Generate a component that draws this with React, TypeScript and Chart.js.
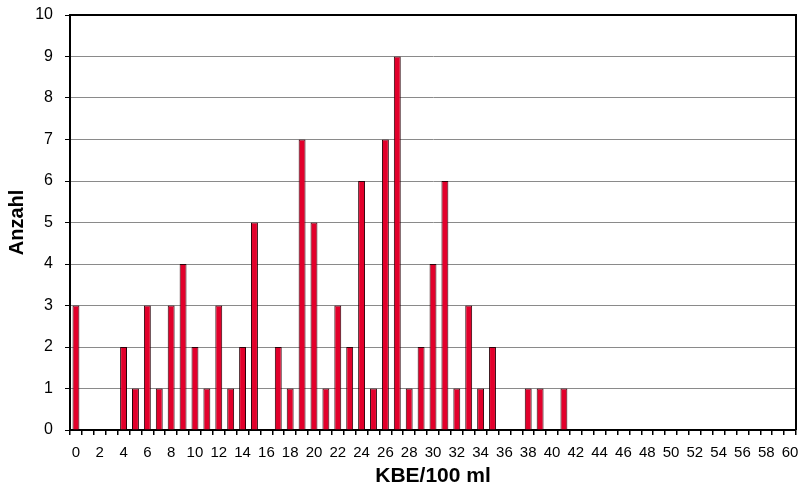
import React, { useEffect, useRef } from "react";
import { Chart, registerables } from "chart.js";

Chart.register(...registerables);

const categories: string[] = Array.from({ length: 61 }, (_, i) => String(i));
const counts: number[] = [
  3, 0, 0, 0, 2, 1, 3, 1, 3, 4,
  2, 1, 3, 1, 2, 5, 0, 2, 1, 7,
  5, 1, 3, 2, 6, 1, 7, 9, 1, 2,
  4, 6, 1, 3, 1, 2, 0, 0, 1, 1,
  0, 1, 0, 0, 0, 0, 0, 0, 0, 0,
  0, 0, 0, 0, 0, 0, 0, 0, 0, 0,
  0,
];
const yTicks: number[] = [0, 1, 2, 3, 4, 5, 6, 7, 8, 9, 10];
const xTitle = "KBE/100 ml";
const yTitle = "Anzahl";

const frame = {
  id: "frame",
  afterDraw(chart: any) {
    const { ctx, chartArea } = chart;
    ctx.save();
    ctx.strokeStyle = "#000";
    ctx.lineWidth = 2;
    ctx.beginPath();
    ctx.moveTo(chartArea.left, chartArea.top);
    ctx.lineTo(chartArea.right, chartArea.top);
    ctx.lineTo(chartArea.right, chartArea.bottom);
    ctx.stroke();
    ctx.restore();
  },
};

export default function App() {
  const ref = useRef<HTMLCanvasElement>(null);
  useEffect(() => {
    document.body.style.margin = "0";
    const chart = new Chart(ref.current!, {
      type: "bar",
      data: {
        labels: categories,
        datasets: [
          {
            data: counts,
            backgroundColor: "#E2002B",
            borderColor: "#2a0008",
            borderWidth: 1,
            categoryPercentage: 1,
            barPercentage: 0.58,
          },
        ],
      },
      options: {
        animation: false,
        responsive: false,
        layout: { padding: { top: 15, right: 13, left: 0, bottom: 0 } },
        plugins: { legend: { display: false }, tooltip: { enabled: false } },
        scales: {
          x: {
            afterFit: (s: any) => { s.height = 62; s.paddingLeft = 0; s.paddingRight = 0; },
            grid: { offset: true, drawOnChartArea: false, drawTicks: true, tickLength: 5, color: "#000", lineWidth: 1.5 },
            border: { display: true, color: "#000", width: 2 },
            ticks: {
              autoSkip: false,
              maxRotation: 0,
              minRotation: 0,
              padding: 9,
              color: "#000",
              font: { family: "'Liberation Sans', Arial, sans-serif", size: 15 },
              callback: (_v: any, i: number) => (i % 2 === 0 ? categories[i] : ""),
            },
            title: {
              display: true,
              text: xTitle,
              color: "#000",
              font: { family: "'Liberation Sans', Arial, sans-serif", size: 21, weight: "bold" },
              padding: { top: 0, bottom: 3 },
            },
          },
          y: {
            min: 0,
            max: 10,
            afterFit: (s: any) => { s.width = 70; s.paddingTop = 0; s.paddingBottom = 0; },
            afterBuildTicks: (s: any) => { s.ticks = yTicks.map((v) => ({ value: v })); },
            grid: { color: "#8a8a8a", lineWidth: 1, tickColor: "#000", tickLength: 5, drawTicks: true },
            border: { display: true, color: "#000", width: 2 },
            ticks: {
              padding: 12,
              color: "#000",
              font: { family: "'Liberation Sans', Arial, sans-serif", size: 16 },
            },
            title: {
              display: true,
              text: yTitle,
              color: "#000",
              font: { family: "'Liberation Sans', Arial, sans-serif", size: 20, weight: "bold" },
              padding: { top: 5, bottom: 0 },
            },
          },
        },
      },
      plugins: [frame],
    });
    return () => chart.destroy();
  }, []);
  return (
    <div style={{ position: "absolute", left: 0, top: 0, width: 809, height: 492, background: "#fff" }}>
      <canvas ref={ref} width={809} height={492} />
    </div>
  );
}
